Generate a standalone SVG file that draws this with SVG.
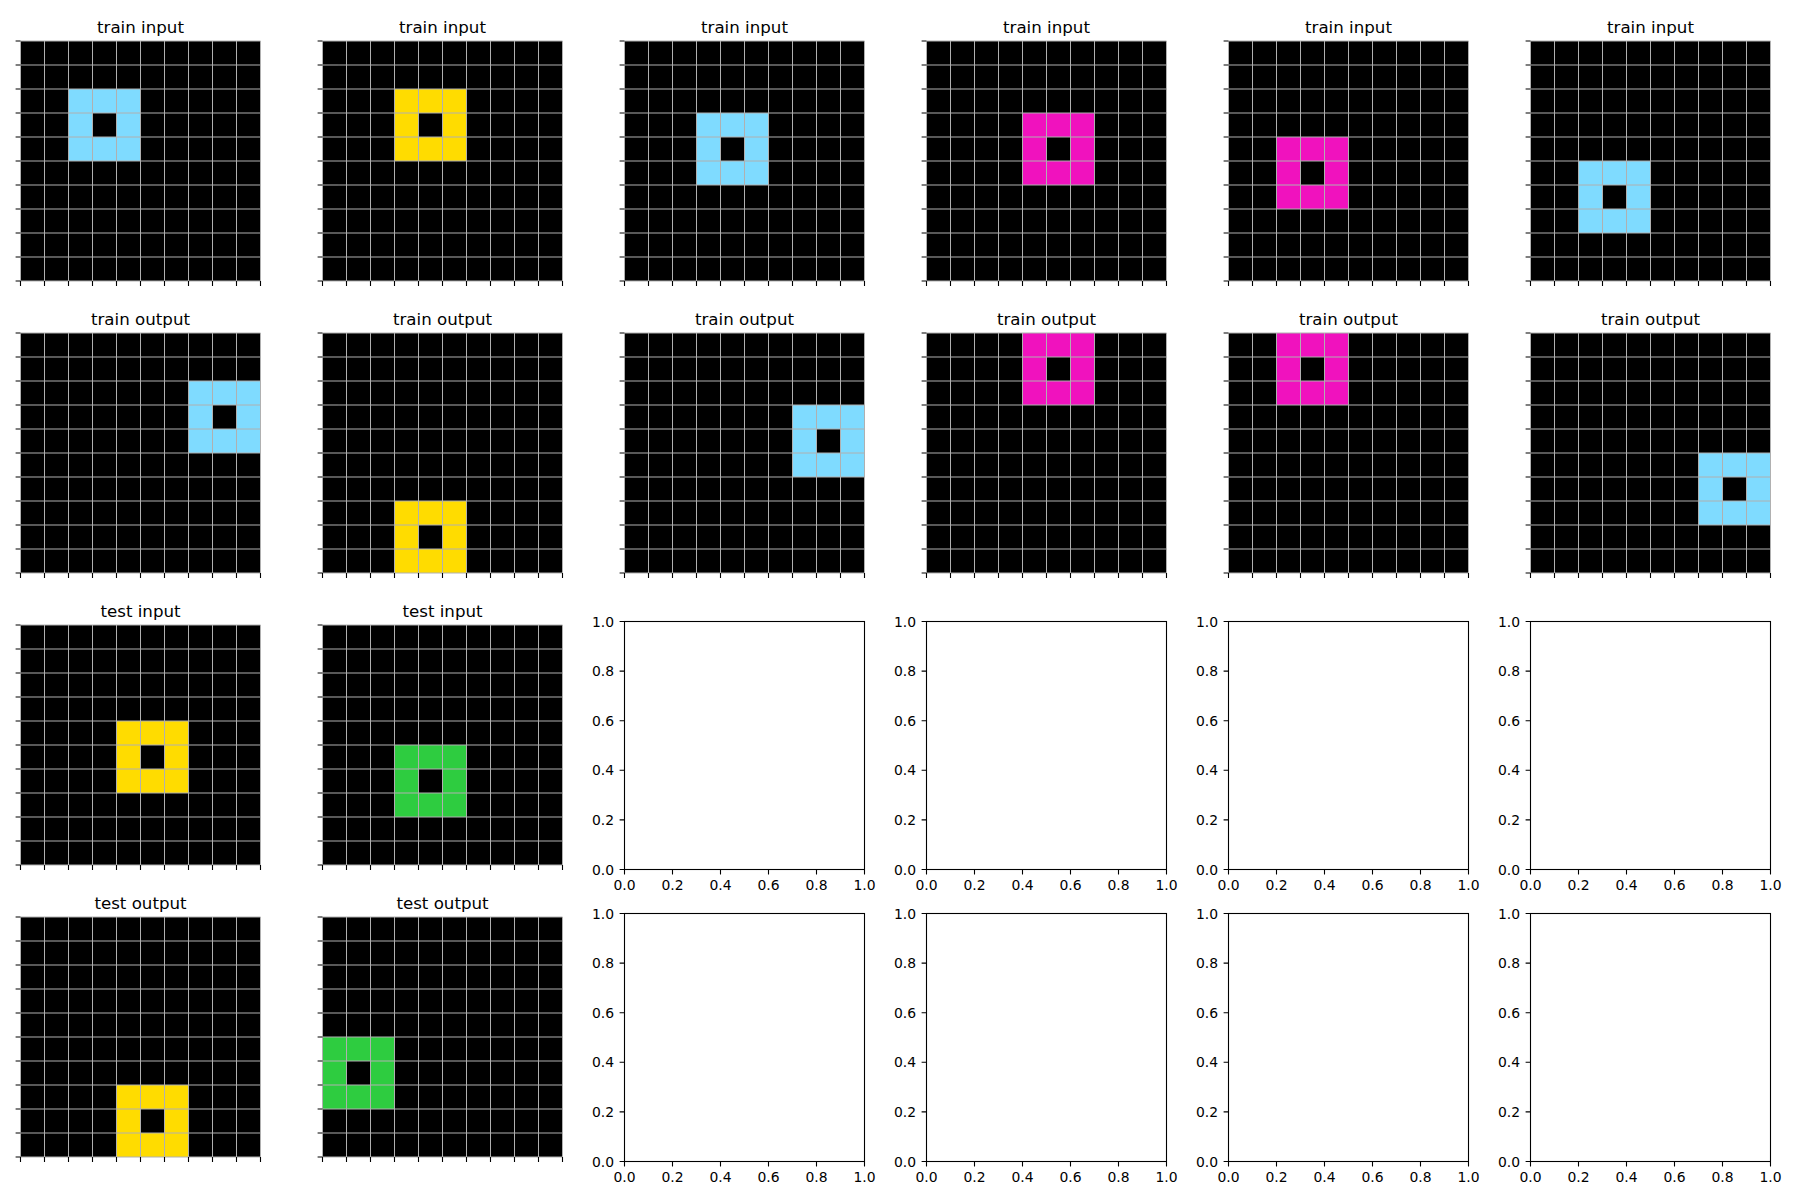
<svg xmlns="http://www.w3.org/2000/svg" xmlns:xlink="http://www.w3.org/1999/xlink" width="1800" height="1200" viewBox="0 0 1800 1200">
<style>
.title{font-family:"DejaVu Sans",sans-serif;font-size:16.67px;fill:#000;text-anchor:middle}
.tl{font-family:"DejaVu Sans",sans-serif;font-size:13.9px;fill:#000}
.yl{text-anchor:end}
.xl{text-anchor:middle}
.bk{fill:#000}
.az{fill:#7FDBFF}
.ye{fill:#FFDC00}
.mg{fill:#F012BE}
.gr{fill:#2ECC40}
.gl{stroke:#b0b0b0;stroke-width:1;fill:none}
.tk{stroke:#000;stroke-width:1.1;fill:none}
.frame{fill:#fff;stroke:#000;stroke-width:1.1}
</style>
<defs>
<g id="grid">
<path class="gl" d="M0,0V240M24,0V240M48,0V240M72,0V240M96,0V240M120,0V240M144,0V240M168,0V240M192,0V240M216,0V240M240,0V240M0,0H240M0,24H240M0,48H240M0,72H240M0,96H240M0,120H240M0,144H240M0,168H240M0,192H240M0,216H240M0,240H240"/>
<path class="tk" d="M0,0h-4.9M0,24h-4.9M0,48h-4.9M0,72h-4.9M0,96h-4.9M0,120h-4.9M0,144h-4.9M0,168h-4.9M0,192h-4.9M0,216h-4.9M0,240h-4.9M0,240v4.9M24,240v4.9M48,240v4.9M72,240v4.9M96,240v4.9M120,240v4.9M144,240v4.9M168,240v4.9M192,240v4.9M216,240v4.9M240,240v4.9"/>
</g>
<path id="eticks" class="tk" d="M0,0h-4.9M0,49.6h-4.9M0,99.2h-4.9M0,148.8h-4.9M0,198.4h-4.9M0,248h-4.9M0,248v4.9M48,248v4.9M96,248v4.9M144,248v4.9M192,248v4.9M240,248v4.9"/>
</defs>
<rect width="1800" height="1200" fill="#fff"/>

<!-- Row 0: train input -->
<g id="train-input-1" transform="translate(20.5,41)">
<text class="title" x="120" y="-8.3">train input</text>
<rect class="bk" width="240" height="240"/>
<rect class="az" x="48" y="48" width="72" height="72"/><rect class="bk" x="72" y="72" width="24" height="24"/>
<use xlink:href="#grid"/>
</g>
<g id="train-input-2" transform="translate(322.5,41)">
<text class="title" x="120" y="-8.3">train input</text>
<rect class="bk" width="240" height="240"/>
<rect class="ye" x="72" y="48" width="72" height="72"/><rect class="bk" x="96" y="72" width="24" height="24"/>
<use xlink:href="#grid"/>
</g>
<g id="train-input-3" transform="translate(624.5,41)">
<text class="title" x="120" y="-8.3">train input</text>
<rect class="bk" width="240" height="240"/>
<rect class="az" x="72" y="72" width="72" height="72"/><rect class="bk" x="96" y="96" width="24" height="24"/>
<use xlink:href="#grid"/>
</g>
<g id="train-input-4" transform="translate(926.5,41)">
<text class="title" x="120" y="-8.3">train input</text>
<rect class="bk" width="240" height="240"/>
<rect class="mg" x="96" y="72" width="72" height="72"/><rect class="bk" x="120" y="96" width="24" height="24"/>
<use xlink:href="#grid"/>
</g>
<g id="train-input-5" transform="translate(1228.5,41)">
<text class="title" x="120" y="-8.3">train input</text>
<rect class="bk" width="240" height="240"/>
<rect class="mg" x="48" y="96" width="72" height="72"/><rect class="bk" x="72" y="120" width="24" height="24"/>
<use xlink:href="#grid"/>
</g>
<g id="train-input-6" transform="translate(1530.5,41)">
<text class="title" x="120" y="-8.3">train input</text>
<rect class="bk" width="240" height="240"/>
<rect class="az" x="48" y="120" width="72" height="72"/><rect class="bk" x="72" y="144" width="24" height="24"/>
<use xlink:href="#grid"/>
</g>

<!-- Row 1: train output -->
<g id="train-output-1" transform="translate(20.5,333)">
<text class="title" x="120" y="-8.3">train output</text>
<rect class="bk" width="240" height="240"/>
<rect class="az" x="168" y="48" width="72" height="72"/><rect class="bk" x="192" y="72" width="24" height="24"/>
<use xlink:href="#grid"/>
</g>
<g id="train-output-2" transform="translate(322.5,333)">
<text class="title" x="120" y="-8.3">train output</text>
<rect class="bk" width="240" height="240"/>
<rect class="ye" x="72" y="168" width="72" height="72"/><rect class="bk" x="96" y="192" width="24" height="24"/>
<use xlink:href="#grid"/>
</g>
<g id="train-output-3" transform="translate(624.5,333)">
<text class="title" x="120" y="-8.3">train output</text>
<rect class="bk" width="240" height="240"/>
<rect class="az" x="168" y="72" width="72" height="72"/><rect class="bk" x="192" y="96" width="24" height="24"/>
<use xlink:href="#grid"/>
</g>
<g id="train-output-4" transform="translate(926.5,333)">
<text class="title" x="120" y="-8.3">train output</text>
<rect class="bk" width="240" height="240"/>
<rect class="mg" x="96" y="0" width="72" height="72"/><rect class="bk" x="120" y="24" width="24" height="24"/>
<use xlink:href="#grid"/>
</g>
<g id="train-output-5" transform="translate(1228.5,333)">
<text class="title" x="120" y="-8.3">train output</text>
<rect class="bk" width="240" height="240"/>
<rect class="mg" x="48" y="0" width="72" height="72"/><rect class="bk" x="72" y="24" width="24" height="24"/>
<use xlink:href="#grid"/>
</g>
<g id="train-output-6" transform="translate(1530.5,333)">
<text class="title" x="120" y="-8.3">train output</text>
<rect class="bk" width="240" height="240"/>
<rect class="az" x="168" y="120" width="72" height="72"/><rect class="bk" x="192" y="144" width="24" height="24"/>
<use xlink:href="#grid"/>
</g>

<!-- Row 2: test input -->
<g id="test-input-1" transform="translate(20.5,625)">
<text class="title" x="120" y="-8.3">test input</text>
<rect class="bk" width="240" height="240"/>
<rect class="ye" x="96" y="96" width="72" height="72"/><rect class="bk" x="120" y="120" width="24" height="24"/>
<use xlink:href="#grid"/>
</g>
<g id="test-input-2" transform="translate(322.5,625)">
<text class="title" x="120" y="-8.3">test input</text>
<rect class="bk" width="240" height="240"/>
<rect class="gr" x="72" y="120" width="72" height="72"/><rect class="bk" x="96" y="144" width="24" height="24"/>
<use xlink:href="#grid"/>
</g>

<!-- Row 3: test output -->
<g id="test-output-1" transform="translate(20.5,917)">
<text class="title" x="120" y="-8.3">test output</text>
<rect class="bk" width="240" height="240"/>
<rect class="ye" x="96" y="168" width="72" height="72"/><rect class="bk" x="120" y="192" width="24" height="24"/>
<use xlink:href="#grid"/>
</g>
<g id="test-output-2" transform="translate(322.5,917)">
<text class="title" x="120" y="-8.3">test output</text>
<rect class="bk" width="240" height="240"/>
<rect class="gr" x="0" y="120" width="72" height="72"/><rect class="bk" x="24" y="144" width="24" height="24"/>
<use xlink:href="#grid"/>
</g>

<!-- Empty axes -->
<g id="empty-r2-c3" transform="translate(624.5,621.5)">
<rect class="frame" width="240" height="248"/><use xlink:href="#eticks"/>
<text class="tl yl" x="-10.5" y="5">1.0</text><text class="tl yl" x="-10.5" y="54.6">0.8</text><text class="tl yl" x="-10.5" y="104.2">0.6</text><text class="tl yl" x="-10.5" y="153.8">0.4</text><text class="tl yl" x="-10.5" y="203.4">0.2</text><text class="tl yl" x="-10.5" y="253">0.0</text>
<text class="tl xl" x="0" y="268.7">0.0</text><text class="tl xl" x="48" y="268.7">0.2</text><text class="tl xl" x="96" y="268.7">0.4</text><text class="tl xl" x="144" y="268.7">0.6</text><text class="tl xl" x="192" y="268.7">0.8</text><text class="tl xl" x="240" y="268.7">1.0</text>
</g>
<g id="empty-r2-c4" transform="translate(926.5,621.5)">
<rect class="frame" width="240" height="248"/><use xlink:href="#eticks"/>
<text class="tl yl" x="-10.5" y="5">1.0</text><text class="tl yl" x="-10.5" y="54.6">0.8</text><text class="tl yl" x="-10.5" y="104.2">0.6</text><text class="tl yl" x="-10.5" y="153.8">0.4</text><text class="tl yl" x="-10.5" y="203.4">0.2</text><text class="tl yl" x="-10.5" y="253">0.0</text>
<text class="tl xl" x="0" y="268.7">0.0</text><text class="tl xl" x="48" y="268.7">0.2</text><text class="tl xl" x="96" y="268.7">0.4</text><text class="tl xl" x="144" y="268.7">0.6</text><text class="tl xl" x="192" y="268.7">0.8</text><text class="tl xl" x="240" y="268.7">1.0</text>
</g>
<g id="empty-r2-c5" transform="translate(1228.5,621.5)">
<rect class="frame" width="240" height="248"/><use xlink:href="#eticks"/>
<text class="tl yl" x="-10.5" y="5">1.0</text><text class="tl yl" x="-10.5" y="54.6">0.8</text><text class="tl yl" x="-10.5" y="104.2">0.6</text><text class="tl yl" x="-10.5" y="153.8">0.4</text><text class="tl yl" x="-10.5" y="203.4">0.2</text><text class="tl yl" x="-10.5" y="253">0.0</text>
<text class="tl xl" x="0" y="268.7">0.0</text><text class="tl xl" x="48" y="268.7">0.2</text><text class="tl xl" x="96" y="268.7">0.4</text><text class="tl xl" x="144" y="268.7">0.6</text><text class="tl xl" x="192" y="268.7">0.8</text><text class="tl xl" x="240" y="268.7">1.0</text>
</g>
<g id="empty-r2-c6" transform="translate(1530.5,621.5)">
<rect class="frame" width="240" height="248"/><use xlink:href="#eticks"/>
<text class="tl yl" x="-10.5" y="5">1.0</text><text class="tl yl" x="-10.5" y="54.6">0.8</text><text class="tl yl" x="-10.5" y="104.2">0.6</text><text class="tl yl" x="-10.5" y="153.8">0.4</text><text class="tl yl" x="-10.5" y="203.4">0.2</text><text class="tl yl" x="-10.5" y="253">0.0</text>
<text class="tl xl" x="0" y="268.7">0.0</text><text class="tl xl" x="48" y="268.7">0.2</text><text class="tl xl" x="96" y="268.7">0.4</text><text class="tl xl" x="144" y="268.7">0.6</text><text class="tl xl" x="192" y="268.7">0.8</text><text class="tl xl" x="240" y="268.7">1.0</text>
</g>
<g id="empty-r3-c3" transform="translate(624.5,913.5)">
<rect class="frame" width="240" height="248"/><use xlink:href="#eticks"/>
<text class="tl yl" x="-10.5" y="5">1.0</text><text class="tl yl" x="-10.5" y="54.6">0.8</text><text class="tl yl" x="-10.5" y="104.2">0.6</text><text class="tl yl" x="-10.5" y="153.8">0.4</text><text class="tl yl" x="-10.5" y="203.4">0.2</text><text class="tl yl" x="-10.5" y="253">0.0</text>
<text class="tl xl" x="0" y="268.7">0.0</text><text class="tl xl" x="48" y="268.7">0.2</text><text class="tl xl" x="96" y="268.7">0.4</text><text class="tl xl" x="144" y="268.7">0.6</text><text class="tl xl" x="192" y="268.7">0.8</text><text class="tl xl" x="240" y="268.7">1.0</text>
</g>
<g id="empty-r3-c4" transform="translate(926.5,913.5)">
<rect class="frame" width="240" height="248"/><use xlink:href="#eticks"/>
<text class="tl yl" x="-10.5" y="5">1.0</text><text class="tl yl" x="-10.5" y="54.6">0.8</text><text class="tl yl" x="-10.5" y="104.2">0.6</text><text class="tl yl" x="-10.5" y="153.8">0.4</text><text class="tl yl" x="-10.5" y="203.4">0.2</text><text class="tl yl" x="-10.5" y="253">0.0</text>
<text class="tl xl" x="0" y="268.7">0.0</text><text class="tl xl" x="48" y="268.7">0.2</text><text class="tl xl" x="96" y="268.7">0.4</text><text class="tl xl" x="144" y="268.7">0.6</text><text class="tl xl" x="192" y="268.7">0.8</text><text class="tl xl" x="240" y="268.7">1.0</text>
</g>
<g id="empty-r3-c5" transform="translate(1228.5,913.5)">
<rect class="frame" width="240" height="248"/><use xlink:href="#eticks"/>
<text class="tl yl" x="-10.5" y="5">1.0</text><text class="tl yl" x="-10.5" y="54.6">0.8</text><text class="tl yl" x="-10.5" y="104.2">0.6</text><text class="tl yl" x="-10.5" y="153.8">0.4</text><text class="tl yl" x="-10.5" y="203.4">0.2</text><text class="tl yl" x="-10.5" y="253">0.0</text>
<text class="tl xl" x="0" y="268.7">0.0</text><text class="tl xl" x="48" y="268.7">0.2</text><text class="tl xl" x="96" y="268.7">0.4</text><text class="tl xl" x="144" y="268.7">0.6</text><text class="tl xl" x="192" y="268.7">0.8</text><text class="tl xl" x="240" y="268.7">1.0</text>
</g>
<g id="empty-r3-c6" transform="translate(1530.5,913.5)">
<rect class="frame" width="240" height="248"/><use xlink:href="#eticks"/>
<text class="tl yl" x="-10.5" y="5">1.0</text><text class="tl yl" x="-10.5" y="54.6">0.8</text><text class="tl yl" x="-10.5" y="104.2">0.6</text><text class="tl yl" x="-10.5" y="153.8">0.4</text><text class="tl yl" x="-10.5" y="203.4">0.2</text><text class="tl yl" x="-10.5" y="253">0.0</text>
<text class="tl xl" x="0" y="268.7">0.0</text><text class="tl xl" x="48" y="268.7">0.2</text><text class="tl xl" x="96" y="268.7">0.4</text><text class="tl xl" x="144" y="268.7">0.6</text><text class="tl xl" x="192" y="268.7">0.8</text><text class="tl xl" x="240" y="268.7">1.0</text>
</g>
<g id="connectors"/>
</svg>
